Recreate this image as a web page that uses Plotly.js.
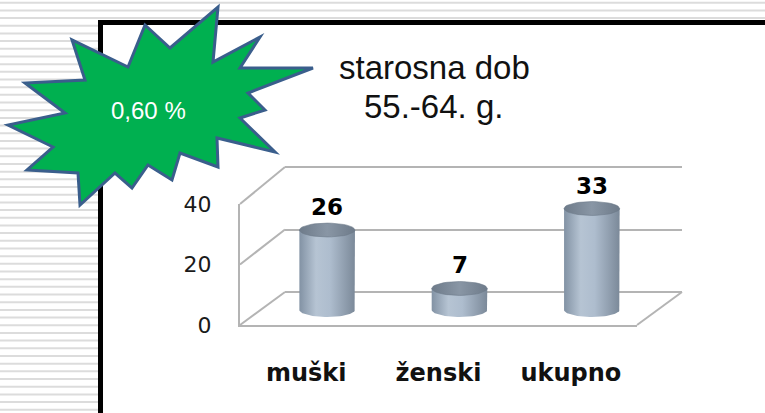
<!DOCTYPE html>
<html>
<head>
<meta charset="utf-8">
<script src="https://cdn.plot.ly/plotly-3.0.1.min.js"></script>
<style>
  html, body { margin: 0; padding: 0; background: #fff; }
  #chart { width: 765px; height: 413px; }
</style>
</head>
<body>
<div id="chart"></div>
<script>
(function () {
  "use strict";

  // data
  var categories = ["muški", "ženski", "ukupno"];
  var counts = [26, 7, 33];
  var yTicks = [0, 20, 40];
  var titleLines = ["starosna dob", "55.-64. g."];
  var badgeText = "0,60 %";

  var W = 765, H = 413;
  function px(x) { return x / W; }
  function py(y) { return 1 - y / H; }

  var GRID = "#b4b4b4";
  var SLIDE_FONT = "Liberation Sans, Arial, sans-serif";

  // cylinder geometry (data units of the middle plane x3/y3)
  var halfW = 0.21, halfH = 2.25, STEPS = 40;

  // empty traces so the front (x/y) and back-wall (x2/y2) subplots get drawn
  var traces = [
    { type: "scatter", mode: "none", x: [], y: [], xaxis: "x", yaxis: "y", hoverinfo: "skip" },
    { type: "scatter", mode: "none", x: [], y: [], xaxis: "x2", yaxis: "y2", hoverinfo: "skip" }
  ];
  counts.forEach(function (v, i) {
    var bx = [], by = [], k, t;
    bx.push(i - halfW); by.push(0);
    bx.push(i - halfW); by.push(v);
    bx.push(i + halfW); by.push(v);
    for (k = 0; k <= STEPS; k++) {
      t = Math.PI * k / STEPS;
      bx.push(i + halfW * Math.cos(t));
      by.push(-halfH * Math.sin(t));
    }
    traces.push({
      type: "scatter", mode: "lines", x: bx, y: by,
      xaxis: "x3", yaxis: "y3",
      fill: "toself", line: { width: 0 },
      fillgradient: {
        type: "horizontal",
        colorscale: [[0, "#8292a4"], [0.3, "#b6c4d3"], [0.55, "#aebdce"], [1, "#7b8999"]]
      },
      hoverinfo: "skip"
    });
    var tx = [], ty = [];
    for (k = 0; k <= STEPS; k++) {
      t = 2 * Math.PI * k / STEPS;
      tx.push(i + halfW * Math.cos(t));
      ty.push(v + halfH * Math.sin(t));
    }
    traces.push({
      type: "scatter", mode: "lines", x: tx, y: ty,
      xaxis: "x3", yaxis: "y3",
      fill: "toself", line: { width: 0.6, color: "#6d7a89" },
      fillgradient: {
        type: "horizontal",
        colorscale: [[0, "#6e7b8a"], [0.5, "#8996a5"], [1, "#6e7b8a"]]
      },
      hoverinfo: "skip"
    });
  });

  var shapes = [];
  // striped slide background
  for (var sy = 2.7; sy < H; sy += 7.68) {
    shapes.push({
      type: "line", xref: "paper", yref: "paper", layer: "below",
      x0: 0, x1: 1, y0: py(sy), y1: py(sy),
      line: { color: "#dcdcdc", width: 2 }
    });
  }
  // white framed panel
  shapes.push({
    type: "rect", xref: "paper", yref: "paper", layer: "below",
    x0: px(100.5), x1: px(800), y0: py(22.5), y1: py(450),
    fillcolor: "#ffffff", line: { color: "#000000", width: 5 }
  });
  // side wall / floor diagonals of the 3D box
  function frontY(v) { return 325 - 3.025 * v; }
  function backY(v) { return 292 - 3.125 * v; }
  yTicks.forEach(function (v) {
    shapes.push({
      type: "line", xref: "paper", yref: "paper", layer: "below",
      x0: px(240), y0: py(frontY(v)), x1: px(285), y1: py(backY(v)),
      line: { color: GRID, width: 2 }
    });
  });
  shapes.push({
    type: "line", xref: "paper", yref: "paper", layer: "below",
    x0: px(637), y0: py(frontY(0)), x1: px(682), y1: py(backY(0)),
    line: { color: GRID, width: 2 }
  });
  // green badge
  var star = [[218, 7], [213, 62], [260, 37], [240, 68], [313, 68], [248, 93],
    [265, 110], [240, 118], [275, 152], [217, 138], [218, 167], [180, 153],
    [172, 180], [148, 165], [132, 188], [115, 173], [80, 205], [78, 173],
    [27, 170], [53, 147], [8, 125], [65, 113], [25, 83], [85, 80], [72, 40],
    [128, 67], [145, 25], [170, 48]];
  var path = star.map(function (p, i) {
    return (i ? "L" : "M") + px(p[0]).toFixed(5) + "," + py(p[1]).toFixed(5);
  }).join(" ") + " Z";
  shapes.push({
    type: "path", xref: "paper", yref: "paper", layer: "above",
    path: path, fillcolor: "#00b050",
    line: { color: "#3a5e8c", width: 3 }
  });

  var annotations = [
    { xref: "paper", yref: "paper", x: px(434), y: py(67), text: titleLines[0],
      showarrow: false, xanchor: "center", yanchor: "middle",
      font: { family: SLIDE_FONT, size: 33, color: "#111" } },
    { xref: "paper", yref: "paper", x: px(433), y: py(106), text: titleLines[1],
      showarrow: false, xanchor: "center", yanchor: "middle",
      font: { family: SLIDE_FONT, size: 33, color: "#111" } },
    { xref: "paper", yref: "paper", x: px(148), y: py(111), text: badgeText,
      showarrow: false, xanchor: "center", yanchor: "middle",
      font: { family: SLIDE_FONT, size: 24, color: "#ffffff" } }
  ];
  counts.forEach(function (v, i) {
    annotations.push({
      xref: "x3", yref: "y3", x: i, y: v, yshift: 23,
      text: String(v), showarrow: false, xanchor: "center", yanchor: "middle",
      font: { family: "DejaVu Sans", size: 23, weight: "bold", color: "#000" }
    });
  });

  var layout = {
    width: W, height: H,
    margin: { l: 0, r: 0, t: 0, b: 0 },
    paper_bgcolor: "#ffffff",
    plot_bgcolor: "rgba(0,0,0,0)",
    showlegend: false,
    hovermode: false,
    // front plane: axis lines and labels
    xaxis: {
      domain: [px(240), px(637)], range: [-0.5, 2.5], anchor: "y",
      tickvals: [0, 1, 2], ticktext: categories, ticks: "",
      showline: true, linecolor: GRID, linewidth: 2,
      showgrid: false, zeroline: false, ticklabelstandoff: 25,
      tickfont: { family: "DejaVu Sans", size: 24, weight: "bold", color: "#111" }
    },
    yaxis: {
      domain: [py(325), py(204)], range: [0, 40], anchor: "x",
      tickvals: yTicks, ticks: "",
      showline: true, linecolor: GRID, linewidth: 2,
      showgrid: false, zeroline: false, ticklabelstandoff: 22,
      tickfont: { family: "DejaVu Sans", size: 22, color: "#1a1a1a" }
    },
    // back wall gridlines
    xaxis2: {
      domain: [px(285), px(682)], range: [0, 1], anchor: "y2",
      showticklabels: false, ticks: "", showgrid: false, zeroline: false, showline: false
    },
    yaxis2: {
      domain: [py(298.25), py(160.75)], range: [-2, 42], anchor: "x2",
      tickvals: yTicks, showticklabels: false, ticks: "",
      showgrid: true, gridcolor: GRID, gridwidth: 2, zeroline: false, showline: false
    },
    // middle plane: cylinders
    xaxis3: {
      domain: [px(261), px(658)], range: [-0.5, 2.5], anchor: "y3",
      visible: false
    },
    yaxis3: {
      domain: [py(340.75), py(171.6)], range: [-10, 45], anchor: "x3",
      visible: false
    },
    shapes: shapes,
    annotations: annotations
  };

  Plotly.newPlot("chart", traces, layout, { staticPlot: true, displayModeBar: false });
})();
</script>
</body>
</html>
